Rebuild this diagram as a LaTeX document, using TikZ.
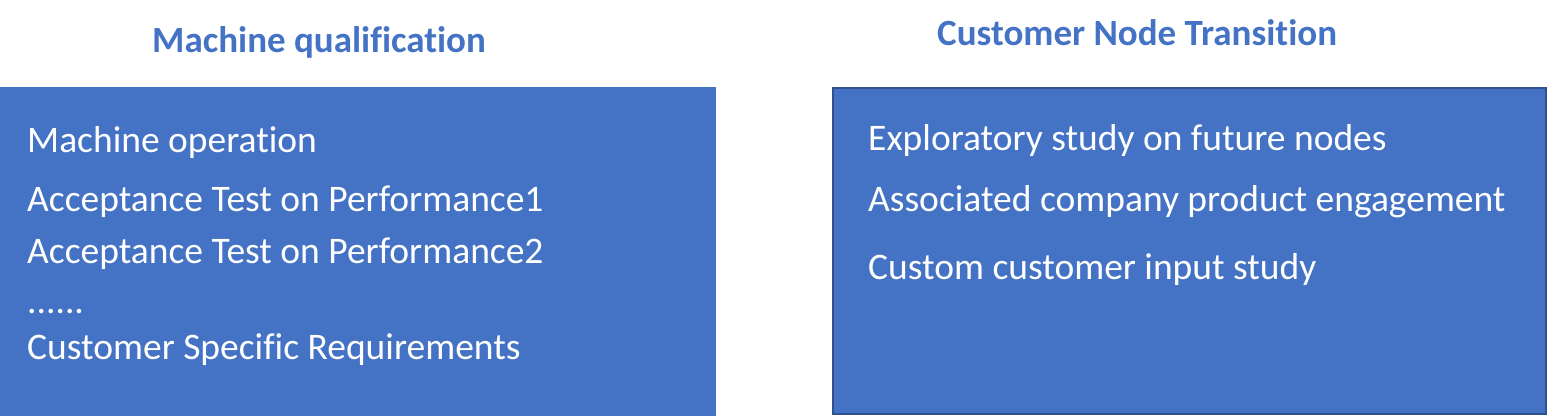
\documentclass[tikz,border=0pt]{standalone}
\usepackage{fontspec}
\setmainfont[Ligatures=NoCommon]{Carlito}
\definecolor{boxblue}{HTML}{4472C4}
\definecolor{boxedge}{HTML}{2F528F}
\begin{document}
\begin{tikzpicture}[x=1pt,y=-1pt,
  title/.style={anchor=base west,inner sep=0pt,text=boxblue,font=\fontsize{37}{44}\selectfont\bfseries},
  item/.style={anchor=base west,inner sep=0pt,text=white,font=\fontsize{37.5}{44}\selectfont}]
\useasboundingbox (0,0) rectangle (1567,416);
\fill[boxblue] (0,87) rectangle (716,416);
\draw[boxedge,fill=boxblue,line width=2pt] (833,88) rectangle (1546,414);
\node[title] (t1) at (152,52) {Machine qualification};
\node[title] (t2) at (937,45) {Customer Node Transition};
\node[item] (l1) at (27,152.7) {Machine operation};
\node[item] (l2) at (27,211) {Acceptance Test on Performance1};
\node[item] (l3) at (27,263) {Acceptance Test on Performance2};
\node[item] (l4) at (27,313) {......};
\node[item] (l5) at (27,359) {Customer Specific Requirements};
\node[item] (r1) at (868,150.7) {Exploratory study on future nodes};
\node[item] (r2) at (868,211.7) {Associated company product engagement};
\node[item] (r3) at (868,279) {Custom customer input study};
\end{tikzpicture}
\end{document}
